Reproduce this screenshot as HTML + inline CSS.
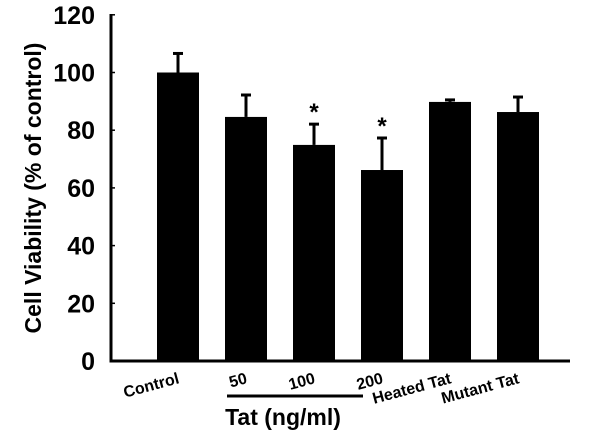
<!DOCTYPE html>
<html><head><meta charset="utf-8"><style>
html,body{margin:0;padding:0;background:#fff;}
svg text{font-family:"Liberation Sans",Arial,sans-serif;font-weight:bold;fill:#000;}
</style></head><body>
<svg id="chart" width="600" height="437" viewBox="0 0 600 437"></svg>
<script>
const categories = ["Control","50","100","200","Heated Tat","Mutant Tat"];
const means = [100, 84.6, 74.9, 66.2, 89.8, 86.3];
const errors = [6.6, 7.6, 7.2, 11.1, 0.7, 5.2];
const significant = [false, false, true, true, false, false];
const yTicks = [0,20,40,60,80,100,120];

const NS = "http://www.w3.org/2000/svg";
const svg = document.getElementById("chart");
const y0 = 361, pxPerUnit = 2.885;
const yScale = v => y0 - v * pxPerUnit;
const xScale = i => 178 + i * 68;
const barW = 42;

function mk(tag, attrs, parent) {
  const e = document.createElementNS(NS, tag);
  for (const k in attrs) e.setAttribute(k, attrs[k]);
  (parent || svg).appendChild(e);
  return e;
}

categories.forEach((c, i) => {
  const cx = xScale(i);
  const top = yScale(means[i]);
  const bar = mk("rect", {x: cx - barW/2, y: top, width: barW, height: y0 - top, fill: "#000"});
  
  
  const et = yScale(means[i] + errors[i]);
  const el = mk("line", {x1: cx, x2: cx, y1: top, y2: et, stroke: "#000", "stroke-width": 3});
  
  
  const cap = mk("line", {x1: cx - 5, x2: cx + 5, y1: et, y2: et, stroke: "#000", "stroke-width": 3});
  
  
  if (significant[i]) {
    const s = mk("text", {x: cx, y: et - 4, "text-anchor": "middle", "font-size": 24});
    s.textContent = "*";
    
    
  }
  const lbl = mk("text", {x: 0, y: 0, "text-anchor": "end", "font-size": 16,
    transform: "translate(" + (cx + 2) + ",383) rotate(-15)"});
  lbl.textContent = c;
  
  
});

const ya = mk("line", {x1: 111, x2: 111, y1: 14, y2: 362.5, stroke: "#000", "stroke-width": 3});


const xa = mk("line", {x1: 109.5, x2: 570, y1: 361, y2: 361, stroke: "#000", "stroke-width": 3});



yTicks.forEach(t => {
  const y = yScale(t);
  const tk = mk("line", {x1: 111, x2: 115, y1: y, y2: y, stroke: "#000", "stroke-width": 1.5});
  
  
  const tl = mk("text", {x: 95, y: y + 9, "text-anchor": "end", "font-size": 25});
  tl.textContent = t;
  
  
});

const yt = mk("text", {x: 0, y: 0, "text-anchor": "middle", "font-size": 23, transform: "translate(41,188) rotate(-90)"});
yt.textContent = "Cell Viability (% of control)";



const br = mk("line", {x1: 227, x2: 363, y1: 396, y2: 396, stroke: "#000", "stroke-width": 3});


const xt = mk("text", {x: 283, y: 425, "text-anchor": "middle", "font-size": 23});
xt.textContent = "Tat (ng/ml)";


</script>
</body></html>
